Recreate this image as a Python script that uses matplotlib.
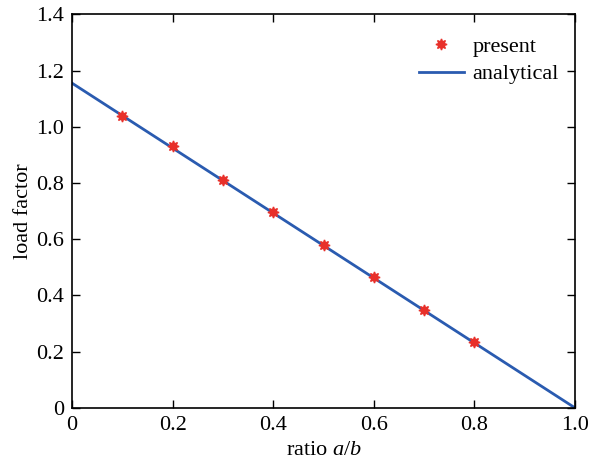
import matplotlib
matplotlib.use("Agg")
import matplotlib.pyplot as plt

# ── DATA ─────────────────────────────────────────────
ratio_present = [0.1, 0.2, 0.3, 0.4, 0.5, 0.6, 0.7, 0.8]
load_present = [1.040, 0.930, 0.812, 0.697, 0.580, 0.465, 0.350, 0.235]

ratio_analytical = [0.0, 1.0]
load_analytical = [1.155, 0.0]

xticks = [0, 0.2, 0.4, 0.6, 0.8, 1.0]
xticklabels = ["0", "0.2", "0.4", "0.6", "0.8", "1.0"]
yticks = [0, 0.2, 0.4, 0.6, 0.8, 1.0, 1.2, 1.4]
yticklabels = ["0", "0.2", "0.4", "0.6", "0.8", "1.0", "1.2", "1.4"]

plt.rcParams["font.family"] = ["Liberation Serif", "DejaVu Serif"]
plt.rcParams["mathtext.fontset"] = "custom"
plt.rcParams["mathtext.it"] = "Liberation Serif:italic"
plt.rcParams["mathtext.rm"] = "Liberation Serif"

fig = plt.figure(figsize=(6.06, 4.62), dpi=100)
ax = fig.add_axes([0.119, 0.117, 0.830, 0.852])

ax.plot(ratio_present, load_present, linestyle="none", marker=(8, 1, 0),
        ms=8, color="#e8302a", mec="#e8302a", label="present", zorder=3)
ax.plot(ratio_analytical, load_analytical, color="#2a5bb0", lw=2,
        label="analytical", zorder=2)

ax.set_xlim(0, 1.0)
ax.set_ylim(0, 1.4)
ax.set_xticks(xticks)
ax.set_xticklabels(xticklabels)
ax.set_yticks(yticks)
ax.set_yticklabels(yticklabels)
ax.tick_params(direction="in", length=6, width=1, labelsize=16, pad=6,
               top=True, right=True)
for s in ax.spines.values():
    s.set_linewidth(1.2)

ax.set_xlabel(r"ratio $a/b$", fontsize=16, labelpad=4)
ax.set_ylabel("load factor", fontsize=16, labelpad=2)

ax.legend(loc="upper right", bbox_to_anchor=(1.012, 1.0), frameon=False,
          fontsize=16, handlelength=2.0, borderaxespad=0.4,
          labelspacing=0.3, handletextpad=0.4, borderpad=0.6)

fig.savefig("out.png", dpi=100)
